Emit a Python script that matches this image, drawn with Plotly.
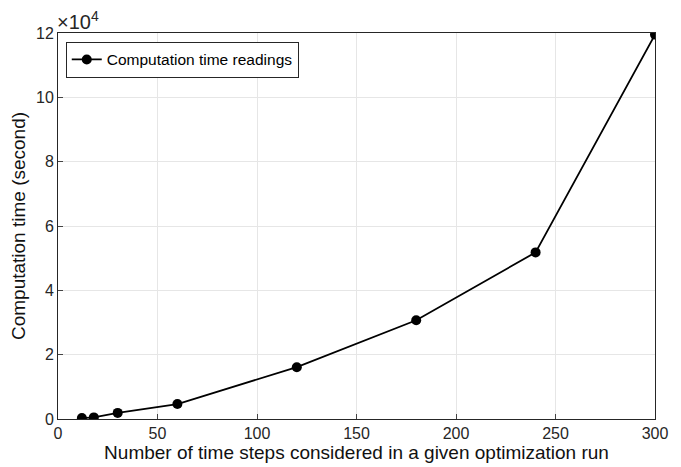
import plotly.graph_objects as go

time_steps = [12, 18, 30, 60, 120, 180, 240, 300]
comp_time = [300, 500, 1900, 4650, 16100, 30700, 51800, 119500]
x_ticks = [0, 50, 100, 150, 200, 250, 300]
y_ticks = [0, 20000, 40000, 60000, 80000, 100000, 120000]
y_tick_text = ["0", "2", "4", "6", "8", "10", "12"]

fig = go.Figure()
fig.add_trace(go.Scatter(
    x=time_steps, y=comp_time, mode="lines+markers",
    name="Computation time readings",
    line=dict(color="black", width=1.8),
    marker=dict(color="black", size=10),
))

font_family = "Liberation Sans, Arial, sans-serif"
fig.update_layout(
    width=673, height=459,
    margin=dict(l=50, r=26, t=25, b=48),
    paper_bgcolor="white", plot_bgcolor="white",
    font=dict(family=font_family, size=16, color="#262626"),
    showlegend=True,
    legend=dict(x=0.013, y=0.977, xanchor="left", yanchor="top",
                bgcolor="white", bordercolor="#262626", borderwidth=1,
                font=dict(size=15.5, color="black"), itemwidth=30,
                tracegroupgap=0),
    xaxis=dict(range=[0, 300], tickvals=x_ticks, ticks="inside", ticklen=5,
               automargin=False,
               showgrid=True, gridcolor="#e6e6e6", gridwidth=1,
               showline=True, linecolor="#262626", linewidth=1, mirror=True,
               zeroline=False,
               title=dict(text="Number of time steps considered in a given optimization run",
                          font=dict(size=19, color="#111"), standoff=0),
               tickfont=dict(size=16)),
    yaxis=dict(range=[0, 120000], tickvals=y_ticks, ticktext=y_tick_text,
               ticks="inside", ticklen=5, automargin=False,
               showgrid=True, gridcolor="#e6e6e6", gridwidth=1,
               showline=True, linecolor="#262626", linewidth=1, mirror=True,
               zeroline=False,
               title=dict(text="Computation time (second)",
                          font=dict(size=19, color="#111"), standoff=6),
               tickfont=dict(size=16)),
)
fig.add_annotation(x=0, y=1, xref="paper", yref="paper", xanchor="left", yanchor="bottom",
                   text="×10<sup>4</sup>", showarrow=False,
                   font=dict(size=20, color="#262626"), xshift=-3, yshift=-2)

fig.write_html("out.html")
